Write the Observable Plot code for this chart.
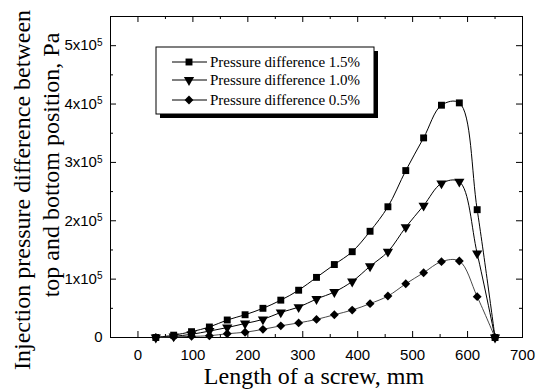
<!DOCTYPE html>
<html><head><meta charset="utf-8">
<script src="https://cdn.jsdelivr.net/npm/d3@7"></script>
<script src="https://cdn.jsdelivr.net/npm/@observablehq/plot@0.6"></script>
<style>body{margin:0;background:#fff} svg text.serif{font-family:"Liberation Serif","Times New Roman",serif !important;}</style>
</head><body><div id="chart"></div>
<script>
// ---- data ----
const screwLength = [32.5, 65, 97.5, 130, 162.5, 195, 227.5, 260, 292.5, 325, 357.5, 390, 422.5, 455, 487.5, 520, 552.5, 585, 617.5, 650];
const diff15 = [0, 4000, 10000, 18000, 30000, 39000, 50000, 64000, 81000, 103000, 125000, 147000, 182000, 224000, 286000, 342000, 398000, 402000, 219000, 0];
const diff10 = [0, 2000, 5500, 11000, 17000, 24000, 31000, 43000, 52000, 66000, 78000, 96000, 122000, 147000, 189000, 226000, 264000, 267000, 144000, 0];
const diff05 = [0, 1000, 2000, 3000, 6500, 9000, 14000, 20000, 25000, 31000, 39000, 47000, 58000, 71000, 92000, 111000, 130000, 131000, 70000, 0];
const seriesNames = ["Pressure difference 1.5%", "Pressure difference 1.0%", "Pressure difference 0.5%"];
const xMajor = [0, 100, 200, 300, 400, 500, 600, 700];
const xMinor = [-50, 50, 150, 250, 350, 450, 550, 650];
const yMajor = [0, 100000, 200000, 300000, 400000, 500000];
const yMinor = [50000, 150000, 250000, 350000, 450000, 550000];
const xTitle = "Length of a screw, mm";
const yTitle1 = "Injection pressure difference between";
const yTitle2 = "top and bottom position, Pa";

const W = 536, H = 392, ML = 110, MR = 14, MT = 16, MB = 55;
const PW = W - ML - MR, PH = H - MT - MB;

const toRows = vals => screwLength.map((x, i) => ({x, y: vals[i]}));
const d15 = toRows(diff15), d10 = toRows(diff10), d05 = toRows(diff05);

const triangleDown = {
  draw(ctx, size) {
    const a = Math.sqrt(size * 4 / Math.sqrt(3));
    const h = a * Math.sqrt(3) / 2;
    ctx.moveTo(-a / 2, -h / 3);
    ctx.lineTo(a / 2, -h / 3);
    ctx.lineTo(0, 2 * h / 3);
    ctx.closePath();
  }
};

const fmtY = d => d === 0 ? "0" : `${d / 100000}x10^5`;
const rSq = 3.9, rTri = 3.8, rDia = 4.0;

const chart = Plot.plot({
  width: W, height: H,
  marginLeft: ML, marginRight: MR, marginTop: MT, marginBottom: MB,
  style: {fontFamily: "'Liberation Sans', Arial, sans-serif", fontSize: "15px", background: "white", color: "black", overflow: "visible"},
  x: {domain: [-50, 700]},
  y: {domain: [0, 550000]},
  marks: [
    Plot.frame({stroke: "black", strokeWidth: 1}),
    // inward major/minor ticks on all four sides
    Plot.tickX(xMajor, {x: d => d, insetTop: PH - 6, stroke: "black"}),
    Plot.tickX(xMajor, {x: d => d, insetBottom: PH - 6, stroke: "black"}),
    Plot.tickX(xMinor, {x: d => d, insetTop: PH - 3, stroke: "black"}),
    Plot.tickX(xMinor, {x: d => d, insetBottom: PH - 3, stroke: "black"}),
    Plot.tickY(yMajor, {y: d => d, insetRight: PW - 6, stroke: "black"}),
    Plot.tickY(yMajor, {y: d => d, insetLeft: PW - 6, stroke: "black"}),
    Plot.tickY(yMinor, {y: d => d, insetRight: PW - 3, stroke: "black"}),
    Plot.tickY(yMinor, {y: d => d, insetLeft: PW - 3, stroke: "black"}),
    Plot.axisX(xMajor, {tickSize: 0, tickPadding: 12, label: null}),
    Plot.axisY(yMajor, {tickSize: 0, tickPadding: 8, tickFormat: fmtY, label: null}),
    Plot.line(d15, {x: "x", y: "y", curve: "catmull-rom", stroke: "black", strokeWidth: 1}),
    Plot.line(d10, {x: "x", y: "y", curve: "catmull-rom", stroke: "black", strokeWidth: 1}),
    Plot.line(d05, {x: "x", y: "y", curve: "catmull-rom", stroke: "#333", strokeWidth: 0.9}),
    Plot.dot(d15, {x: "x", y: "y", symbol: "square", r: rSq, fill: "black", stroke: "none"}),
    Plot.dot(d10, {x: "x", y: "y", symbol: triangleDown, r: rTri, fill: "black", stroke: "none"}),
    Plot.dot(d05, {x: "x", y: "y", symbol: "diamond2", r: rDia, fill: "black", stroke: "none"})
  ]
});
document.getElementById("chart").appendChild(chart);

const svg = d3.select(chart);

// superscript exponents in y tick labels
svg.selectAll("text").each(function () {
  const t = this.textContent;
  if (/x10\^5$/.test(t)) {
    const base = t.replace("^5", "");
    const el = d3.select(this);
    el.text(null);
    el.append("tspan").text(base);
    el.append("tspan").attr("dy", "-0.45em").style("font-size", "10px").text("5");
  }
});

// axis titles
svg.append("text").attr("class", "serif").attr("x", 314).attr("y", 384).attr("text-anchor", "middle")
  .style("font-size", "24px").attr("fill", "black").text(xTitle);
svg.append("text").attr("class", "serif").attr("transform", "translate(22,190) rotate(-90)").attr("text-anchor", "middle")
  .attr("dominant-baseline", "central")
  .style("font-size", "24px").attr("fill", "black").text(yTitle1);
svg.append("text").attr("class", "serif").attr("transform", "translate(51,165) rotate(-90)").attr("text-anchor", "middle")
  .attr("dominant-baseline", "central")
  .style("font-size", "24px").attr("fill", "black").text(yTitle2);

// legend box with shadow
const lg = svg.append("g");
lg.append("rect").attr("x", 160).attr("y", 51).attr("width", 218).attr("height", 67).attr("fill", "black");
lg.append("rect").attr("x", 156).attr("y", 47).attr("width", 218).attr("height", 67).attr("fill", "white").attr("stroke", "black");
const rowsY = [62, 80, 100];
const syms = [d3.symbol(d3.symbolSquare, Math.PI * rSq * rSq)(), d3.symbol(triangleDown, Math.PI * rTri * rTri)(), d3.symbol(d3.symbolDiamond2, Math.PI * rDia * rDia)()];
seriesNames.forEach((name, i) => {
  const y = rowsY[i];
  lg.append("line").attr("x1", 172).attr("x2", 207).attr("y1", y).attr("y2", y).attr("stroke", "black");
  lg.append("path").attr("d", syms[i]).attr("transform", `translate(189,${y})`).attr("fill", "black");
  lg.append("text").attr("class", "serif").attr("x", 210).attr("y", y).attr("dy", "0.35em").attr("text-anchor", "start")
    .style("font-size", "15px").attr("fill", "black").text(name);
});
</script>
</body></html>
